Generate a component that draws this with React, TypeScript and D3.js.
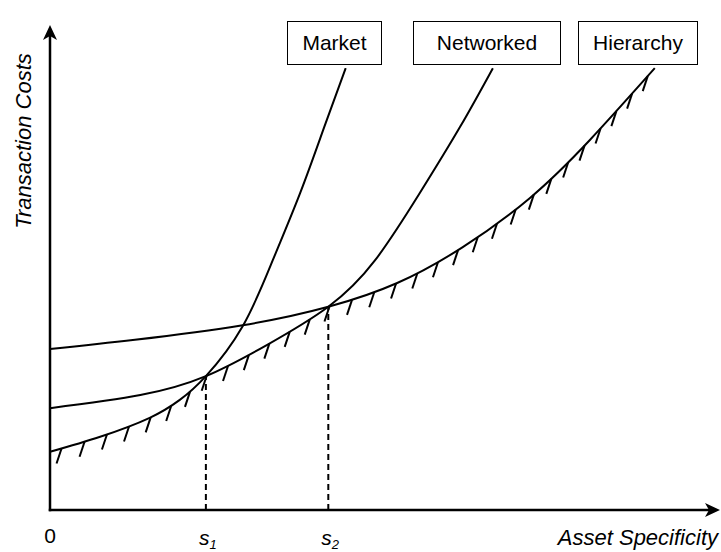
import React, { useEffect, useRef } from 'react';
import * as d3 from 'd3';

const WIDTH = 721;
const HEIGHT = 552;

// Curves in data units (asset specificity 0-100, transaction cost 0-100)
const marketX = [0, 7.5, 14.9, 19.4, 23.3, 28.8, 33.3, 37.4, 41.0, 44.2];
const marketY = [12.0, 15.1, 19.0, 22.7, 27.6, 37.9, 51.5, 65.4, 79.0, 91.1];

const networkedX = [0, 13.5, 23.3, 32.4, 41.6, 48.6, 55.3, 61.3, 66.2];
const networkedY = [21.0, 23.7, 27.6, 34.0, 41.9, 51.5, 65.4, 79.0, 91.1];

const hierarchyX = [0, 12.7, 28.8, 41.6, 51.9, 61.7, 71.7, 80.7, 90.4];
const hierarchyY = [33.2, 35.1, 38.1, 41.9, 46.8, 54.2, 64.3, 76.3, 91.1];

const seriesNames = ['Market', 'Networked', 'Hierarchy'];

// switch points s1, s2 and the cost level at each
const switchX = [23.3, 41.6];
const switchY = [27.6, 41.9];
const switchLabels = ['1', '2'];

const FONT = '"Liberation Sans", Arial, Helvetica, sans-serif';

export default function App() {
  const ref = useRef<SVGSVGElement>(null);

  useEffect(() => {
    const svg = d3.select(ref.current);
    svg.selectAll('*').remove();

    const x = d3.scaleLinear().domain([0, 100]).range([50, 719]);
    const y = d3.scaleLinear().domain([0, 100]).range([510, 25]);

    const line = d3
      .line<[number, number]>()
      .x((d) => x(d[0]))
      .y((d) => y(d[1]))
      .curve(d3.curveNatural);

    const series: [number, number][][] = [
      marketX.map((v, i) => [v, marketY[i]] as [number, number]),
      networkedX.map((v, i) => [v, networkedY[i]] as [number, number]),
      hierarchyX.map((v, i) => [v, hierarchyY[i]] as [number, number]),
    ];

    // dashed guide lines
    svg
      .selectAll('line.guide')
      .data(switchX)
      .join('line')
      .attr('class', 'guide')
      .attr('x1', (d) => x(d))
      .attr('x2', (d) => x(d))
      .attr('y1', y(0))
      .attr('y2', (_d, i) => y(switchY[i]))
      .attr('stroke', '#000')
      .attr('stroke-width', 2)
      .attr('stroke-dasharray', '6,4');

    // curves
    const paths = svg
      .selectAll('path.curve')
      .data(series)
      .join('path')
      .attr('class', 'curve')
      .attr('d', (d) => line(d) as string)
      .attr('fill', 'none')
      .attr('stroke', '#000')
      .attr('stroke-width', 2);

    // hatches along lower envelope
    const nodes = paths.nodes() as SVGPathElement[];
    const bounds: [number, number][] = [
      [-Infinity, x(switchX[0])],
      [x(switchX[0]), x(switchX[1])],
      [x(switchX[1]), Infinity],
    ];
    const pts: [number, number][] = [];
    nodes.forEach((node, i) => {
      const L = node.getTotalLength();
      for (let l = 0; l <= L; l += 0.5) {
        const p = node.getPointAtLength(l);
        if (p.x >= bounds[i][0] && p.x < bounds[i][1]) pts.push([p.x, p.y]);
      }
    });
    const hatchPts: [number, number][] = [];
    let acc = 0;
    let next = 12;
    for (let i = 1; i < pts.length; i++) {
      acc += Math.hypot(pts[i][0] - pts[i - 1][0], pts[i][1] - pts[i - 1][1]);
      if (acc >= next) {
        hatchPts.push(pts[i]);
        next += 23.5;
      }
    }
    svg
      .selectAll('line.hatch')
      .data(hatchPts)
      .join('line')
      .attr('class', 'hatch')
      .attr('x1', (d) => d[0])
      .attr('y1', (d) => d[1])
      .attr('x2', (d) => d[0] - 5)
      .attr('y2', (d) => d[1] + 15)
      .attr('stroke', '#000')
      .attr('stroke-width', 2);

    // axes
    const x0 = x(0);
    const y0 = y(0);
    svg
      .append('line')
      .attr('x1', x0)
      .attr('x2', x0)
      .attr('y1', y0 + 1.25)
      .attr('y2', y(100) + 8)
      .attr('stroke', '#000')
      .attr('stroke-width', 2.5);
    svg
      .append('line')
      .attr('x1', x0 - 1.25)
      .attr('x2', x(100) - 8)
      .attr('y1', y0)
      .attr('y2', y0)
      .attr('stroke', '#000')
      .attr('stroke-width', 2.5);
    // arrowheads
    const ty = y(100);
    svg
      .append('path')
      .attr('d', `M${x0},${ty} L${x0 + 7},${ty + 15} L${x0},${ty + 11} L${x0 - 7},${ty + 15} Z`)
      .attr('fill', '#000');
    const tx = x(100) + 1;
    svg
      .append('path')
      .attr('d', `M${tx},${y0} L${tx - 15},${y0 - 7} L${tx - 11},${y0} L${tx - 15},${y0 + 7} Z`)
      .attr('fill', '#000');

    // axis titles
    svg
      .append('text')
      .attr('transform', `translate(31,141) rotate(-90)`)
      .attr('text-anchor', 'middle')
      .attr('font-family', FONT)
      .attr('font-style', 'italic')
      .attr('font-size', 22)
      .text('Transaction Costs');
    svg
      .append('text')
      .attr('x', 718)
      .attr('y', 545)
      .attr('text-anchor', 'end')
      .attr('font-family', FONT)
      .attr('font-style', 'italic')
      .attr('font-size', 22)
      .text('Asset Specificity');

    // origin label
    svg
      .append('text')
      .attr('x', x0)
      .attr('y', 543)
      .attr('text-anchor', 'middle')
      .attr('font-family', FONT)
      .attr('font-size', 21)
      .text('0');

    // s1, s2
    const sl = svg
      .selectAll('text.s')
      .data(switchX)
      .join('text')
      .attr('class', 's')
      .attr('x', (d) => x(d) - 7)
      .attr('y', 545)
      .attr('font-family', FONT)
      .attr('font-style', 'italic')
      .attr('font-size', 21);
    sl.append('tspan').text('s');
    sl.append('tspan')
      .attr('font-size', 13)
      .attr('dy', 4)
      .text((_d, i) => switchLabels[i]);

    // label boxes
    const boxLeft = [287, 413, 578];
    const boxWidth = [94, 147, 119];
    const g = svg
      .selectAll('g.box')
      .data(seriesNames)
      .join('g')
      .attr('class', 'box')
      .attr('transform', (_d, i) => `translate(${boxLeft[i]},21)`);
    g.append('rect')
      .attr('x', 0.5)
      .attr('y', 0.5)
      .attr('width', (_d, i) => boxWidth[i])
      .attr('height', 43)
      .attr('fill', '#fff')
      .attr('stroke', '#000')
      .attr('stroke-width', 1);
    g.append('text')
      .attr('x', (_d, i) => boxWidth[i] / 2 + 0.5)
      .attr('y', 29)
      .attr('text-anchor', 'middle')
      .attr('font-family', FONT)
      .attr('font-size', 21)
      .text((d) => d);
  }, []);

  return (
    <svg
      ref={ref}
      width={WIDTH}
      height={HEIGHT}
      style={{ position: 'absolute', left: 0, top: 0, background: '#fff' }}
    />
  );
}
